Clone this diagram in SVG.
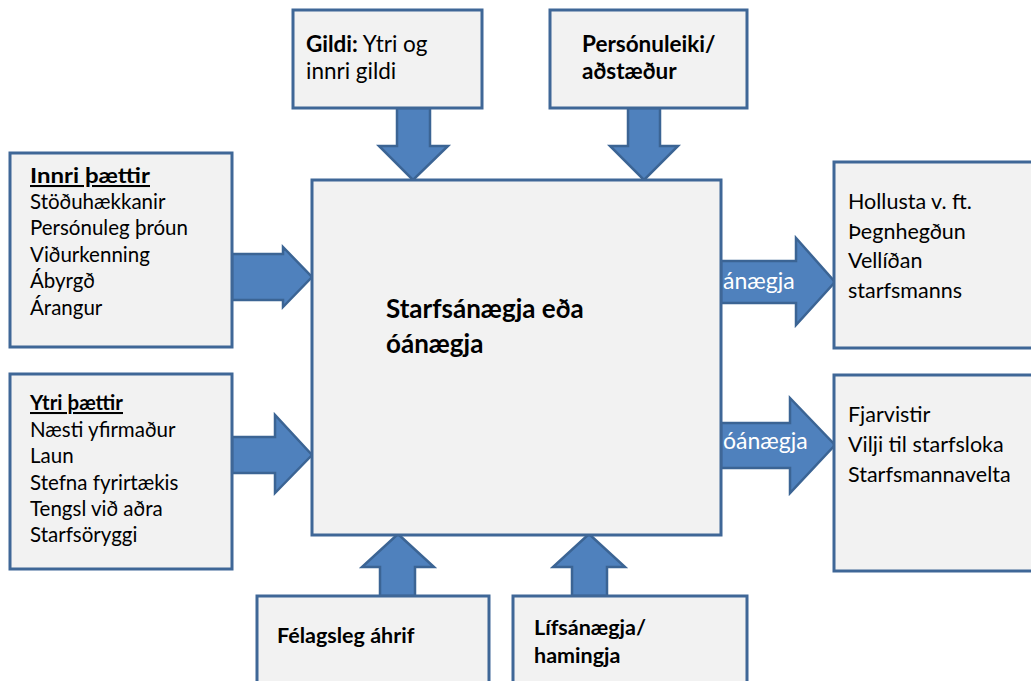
<svg xmlns="http://www.w3.org/2000/svg" width="1031" height="681" viewBox="0 0 1031 681">
<style>
.box{fill:#f2f2f2;stroke:#3f6797;stroke-width:3}
.arr{fill:#4f81bd;stroke:#3b6494;stroke-width:2.5;stroke-linejoin:miter}
text{font-family:Lato,"Liberation Sans",sans-serif;fill:#000}
.s{font-size:20.5px}
.m{font-size:21.5px}
.g{font-size:22.5px}
.b{font-weight:bold}
.u{text-decoration:underline}
.w{fill:#ffffff;font-size:23px}
</style>
<rect width="1031" height="681" fill="#ffffff"/>
<g id="connectors">
<polygon class="arr" points="397,108 430,108 430,146 448,146 413,180 379,146 397,146"/>
<polygon class="arr" points="628,108 660,108 660,146 678,146 644,180 610,146 628,146"/>
<polygon class="arr" points="232,254 283,254 283,247 312,277 283,307 283,300 232,300"/>
<polygon class="arr" points="232,437 275,437 275,415 312,455 275,493 275,473 232,473"/>
<polygon class="arr" points="721,261 796,261 796,238 835,282 796,325 796,303 721,303"/>
<polygon class="arr" points="721,423 790,423 790,398 835,445 790,493 790,468 721,468"/>
<polygon class="arr" points="380,596 415,596 415,567 434,567 398,534 362,567 380,567"/>
<polygon class="arr" points="572,596 607,596 607,567 625,567 589,534 553,567 572,567"/>
<text class="w" x="723" y="289">ánægja</text>
<text class="w" x="723" y="449">óánægja</text>
</g>
<g id="center">
<rect class="box" x="312" y="180" width="409" height="355"/>
<text class="b" x="386" y="318" font-size="26">Starfsánægja eða</text>
<text class="b" x="386" y="353" font-size="26">óánægja</text>
</g>
<g id="gildi">
<rect class="box" x="293" y="10" width="189" height="98"/>
<text class="g" x="306" y="52"><tspan class="b">Gildi:</tspan> Ytri og</text>
<text class="g" x="306" y="79">innri gildi</text>
</g>
<g id="personuleiki">
<rect class="box" x="550" y="10" width="197" height="98"/>
<text class="g b" x="582" y="52">Persónuleiki/</text>
<text class="g b" x="582" y="79">aðstæður</text>
</g>
<g id="innri">
<rect class="box" x="10" y="153" width="222" height="194"/>
<text class="s b u" x="30" y="183" textLength="120" lengthAdjust="spacingAndGlyphs">Innri þættir</text>
<text class="s" x="30" y="209">Stöðuhækkanir</text>
<text class="s" x="30" y="235">Persónuleg þróun</text>
<text class="s" x="30" y="262">Viðurkenning</text>
<text class="s" x="30" y="288">Ábyrgð</text>
<text class="s" x="30" y="315">Árangur</text>
</g>
<g id="ytri">
<rect class="box" x="10" y="374" width="222" height="195"/>
<text class="s b u" x="30" y="410" textLength="93" lengthAdjust="spacingAndGlyphs">Ytri þættir</text>
<text class="s" x="30" y="437">Næsti yfirmaður</text>
<text class="s" x="30" y="463">Laun</text>
<text class="s" x="30" y="490">Stefna fyrirtækis</text>
<text class="s" x="30" y="516">Tengsl við aðra</text>
<text class="s" x="30" y="542">Starfsöryggi</text>
</g>
<g id="hollusta">
<rect class="box" x="834" y="162" width="210" height="186"/>
<text class="m" x="848" y="209">Hollusta v. ft.</text>
<text class="m" x="848" y="239">Þegnhegðun</text>
<text class="m" x="848" y="268">Vellíðan</text>
<text class="m" x="848" y="298">starfsmanns</text>
</g>
<g id="fjarvistir">
<rect class="box" x="834" y="375" width="210" height="196"/>
<text class="m" x="848" y="422">Fjarvistir</text>
<text class="m" x="848" y="452">Vilji til starfsloka</text>
<text class="m" x="848" y="482">Starfsmannavelta</text>
</g>
<g id="felagsleg">
<rect class="box" x="257" y="596" width="232" height="100"/>
<text class="m b" x="277" y="643">Félagsleg áhrif</text>
</g>
<g id="lifsanaegja">
<rect class="box" x="513" y="596" width="234" height="100"/>
<text class="m b" x="534" y="635">Lífsánægja/</text>
<text class="m b" x="534" y="663">hamingja</text>
</g>
</svg>
